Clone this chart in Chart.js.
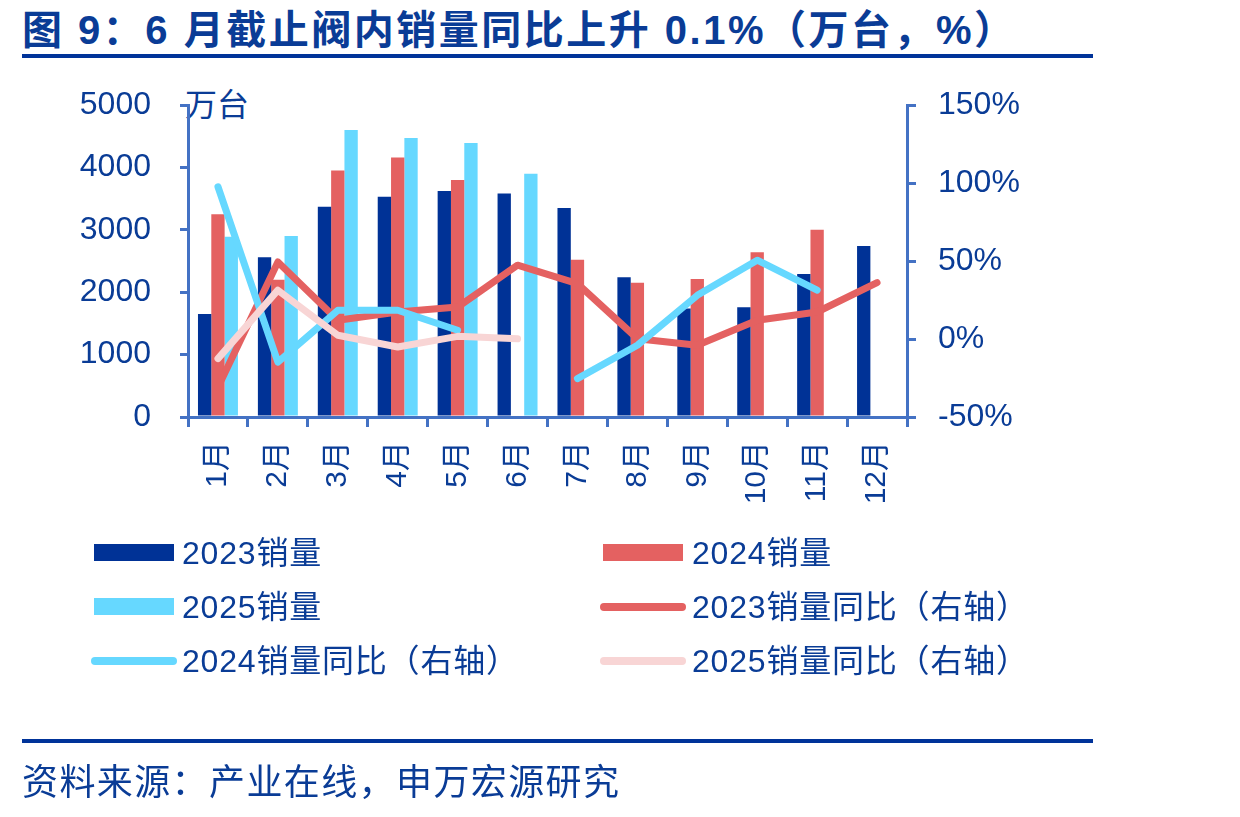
<!DOCTYPE html>
<html><head><meta charset="utf-8">
<script src="https://cdn.jsdelivr.net/npm/chart.js@4/dist/chart.umd.min.js"></script>
<style>
html,body{margin:0;padding:0;background:#fff;}
body{width:1240px;height:817px;position:relative;overflow:hidden;font-family:'Liberation Sans','Noto Sans CJK SC',sans-serif;color:#0A3C96;}
#c{position:absolute;left:0;top:0;}
.t{position:absolute;white-space:nowrap;line-height:1;}
.rule{position:absolute;left:22px;width:1071px;background:#003399;}
.lg{position:absolute;}
</style></head><body>
<div class="t" id="title" style="left:22px;top:10px;font-size:40px;font-weight:bold;letter-spacing:2.5px;">图 9：6 月截止阀内销量同比上升 0.1%（万台，%）</div>
<div class="rule" style="top:54px;height:4px;"></div>
<div class="t" style="left:185px;top:89px;font-size:32px;">万台</div>
<canvas id="c" width="1240" height="817"></canvas>
<div id="legend"></div>
<div class="rule" style="top:739px;height:4px;"></div>
<div class="t" style="left:22px;top:765px;font-size:36px;letter-spacing:1.4px;">资料来源：产业在线，申万宏源研究</div>
<script>
const months = ['1月','2月','3月','4月','5月','6月','7月','8月','9月','10月','11月','12月'];
const sales2023 = [1650, 2560, 3370, 3530, 3620, 3580, 3350, 2240, 1740, 1760, 2290, 2740];
const sales2024 = [3250, 2200, 3950, 4160, 3800, null, 2520, 2150, 2210, 2640, 3000, null];
const sales2025 = [2890, 2900, 4600, 4470, 4390, 3900, null, null, null, null, null, null];
const yoy2023 = [-31, 49.4, 12, 17.3, 20.5, 47.3, 35.5, 0.2, -4, 12, 17.3, 36.2];
const yoy2024 = [97.6, -14.8, 18.4, 18.4, 5.6, null, -25.4, -4, 28, 50.5, 31.3, null];
const yoy2025 = [-12.6, 31.3, 2.4, -5.1, 1.7, 0.1, null, null, null, null, null, null];
const leftTicks = [0, 1000, 2000, 3000, 4000, 5000];
const rightTicks = [-50, 0, 50, 100, 150];

const NAVY = '#003296', RED = '#E46161', CYAN = '#66D8FF', PINK = '#F8D5D5';
const TEXT = '#0A3C96', AXIS = '#4472C4';
const FONT = "'Liberation Sans','Noto Sans CJK SC',sans-serif";

const legendItems = [
  {label:'2023销量', type:'box', color:NAVY, x:94, y:553},
  {label:'2024销量', type:'box', color:RED, x:603, y:553},
  {label:'2025销量', type:'box', color:CYAN, x:94, y:607},
  {label:'2023销量同比（右轴）', type:'line', color:RED, x:600, y:607},
  {label:'2024销量同比（右轴）', type:'line', color:CYAN, x:91, y:661},
  {label:'2025销量同比（右轴）', type:'line', color:PINK, x:600, y:661}
];
const lg = document.getElementById('legend');
legendItems.forEach(it => {
  const m = document.createElement('div');
  m.className = 'lg';
  if (it.type === 'box') {
    m.style.cssText = `left:${it.x}px;top:${it.y-9}px;width:80px;height:17px;background:${it.color};`;
  } else {
    m.style.cssText = `left:${it.x}px;top:${it.y-4}px;width:86px;height:8px;border-radius:4px;background:${it.color};`;
  }
  lg.appendChild(m);
  const t = document.createElement('div');
  t.className = 't';
  t.style.cssText = `left:${it.x<300?182:692}px;top:${it.y-16}px;font-size:32px;letter-spacing:0.8px;`;
  t.textContent = it.label;
  lg.appendChild(t);
});

const lineDs = (label, data, color, order) => ({
  type:'line', label, data, borderColor:color, backgroundColor:color, borderWidth:7,
  pointRadius:0, tension:0, spanGaps:false, yAxisID:'y1', order,
  borderCapStyle:'round', borderJoinStyle:'round'
});
const barDs = (label, data, color) => ({
  type:'bar', label, data, backgroundColor:color, borderWidth:0, yAxisID:'y', order:5,
  categoryPercentage:0.667, barPercentage:1.0
});

new Chart(document.getElementById('c'), {
  data:{
    labels: months,
    datasets:[
      barDs('2023销量', sales2023, NAVY),
      barDs('2024销量', sales2024, RED),
      barDs('2025销量', sales2025, CYAN),
      lineDs('2023销量同比（右轴）', yoy2023, RED, 3),
      lineDs('2024销量同比（右轴）', yoy2024, CYAN, 2),
      lineDs('2025销量同比（右轴）', yoy2025, PINK, 1)
    ]
  },
  options:{
    responsive:false, animation:false, devicePixelRatio:1,
    layout:{padding:{left:0,right:0,top:105,bottom:300}},
    plugins:{legend:{display:false}, tooltip:{enabled:false}},
    scales:{
      x:{
        grid:{display:true, drawOnChartArea:false, drawTicks:true, tickLength:10, color:AXIS, lineWidth:3, offset:true},
        border:{display:true, color:AXIS, width:3},
        ticks:{color:TEXT, font:{family:FONT, size:30}, minRotation:90, maxRotation:90, padding:14, autoSkip:false},
        afterFit: s => { s.height = 100; }
      },
      y:{
        position:'left', min:0, max:5000,
        afterBuildTicks: s => { s.ticks = leftTicks.map(v => ({value:v})); },
        grid:{display:true, drawOnChartArea:false, drawTicks:true, tickLength:8, color:AXIS, lineWidth:3},
        border:{display:true, color:AXIS, width:3},
        ticks:{color:TEXT, font:{family:FONT, size:32}, padding:29, callback: v => String(v)},
        afterFit: s => { s.width = 188; }
      },
      y1:{
        position:'right', min:-50, max:150,
        afterBuildTicks: s => { s.ticks = rightTicks.map(v => ({value:v})); },
        grid:{display:true, drawOnChartArea:false, drawTicks:true, tickLength:9, color:AXIS, lineWidth:3},
        border:{display:true, color:AXIS, width:3},
        ticks:{color:TEXT, font:{family:FONT, size:32}, padding:22, callback: v => v + '%'},
        afterFit: s => { s.width = 333; }
      }
    }
  }
});
</script>
</body></html>
